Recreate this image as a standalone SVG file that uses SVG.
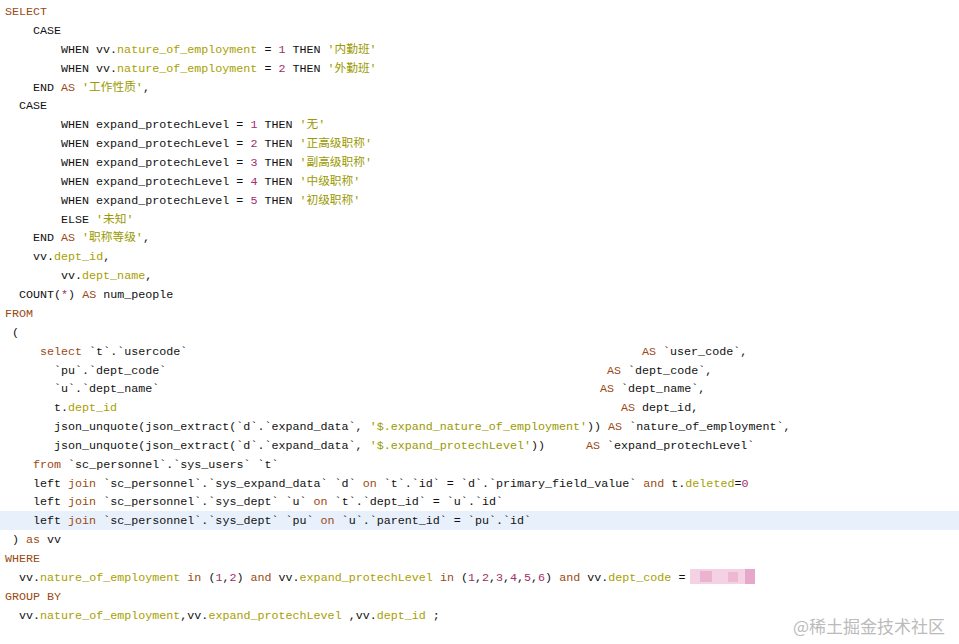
<svg xmlns="http://www.w3.org/2000/svg" width="959" height="644" viewBox="0 0 959 644">
<style>
text{font-family:"Liberation Mono","Noto Sans CJK SC",monospace;font-size:11.7px;fill:#111;white-space:pre}
.k{fill:#9a4a12}.s{fill:#9a9a00}.n{fill:#a0306a}.f{fill:#a8a000}
.wm{font-family:"Noto Sans CJK SC","Liberation Sans",sans-serif;font-size:17px;fill:#bbb}
</style>
<rect width="959" height="644" fill="#fff"/>
<rect x="0" y="511" width="959" height="19" fill="#e8f0fb"/>
<g id="code" xml:space="preserve">
<text x="5" y="15" class="k">SELECT</text>
<text x="33" y="34">CASE</text>
<text x="61" y="53">WHEN vv.<tspan class="f">nature_of_employment</tspan> = <tspan class="n">1</tspan> THEN <tspan class="s">'内勤班'</tspan></text>
<text x="61" y="72">WHEN vv.<tspan class="f">nature_of_employment</tspan> = <tspan class="n">2</tspan> THEN <tspan class="s">'外勤班'</tspan></text>
<text x="33" y="91">END <tspan class="k">AS</tspan> <tspan class="s">'工作性质'</tspan>,</text>
<text x="19" y="109">CASE</text>
<text x="61" y="128">WHEN expand_protechLevel = <tspan class="n">1</tspan> THEN <tspan class="s">'无'</tspan></text>
<text x="61" y="147">WHEN expand_protechLevel = <tspan class="n">2</tspan> THEN <tspan class="s">'正高级职称'</tspan></text>
<text x="61" y="166">WHEN expand_protechLevel = <tspan class="n">3</tspan> THEN <tspan class="s">'副高级职称'</tspan></text>
<text x="61" y="185">WHEN expand_protechLevel = <tspan class="n">4</tspan> THEN <tspan class="s">'中级职称'</tspan></text>
<text x="61" y="204">WHEN expand_protechLevel = <tspan class="n">5</tspan> THEN <tspan class="s">'初级职称'</tspan></text>
<text x="61" y="223">ELSE <tspan class="s">'未知'</tspan></text>
<text x="33" y="241">END <tspan class="k">AS</tspan> <tspan class="s">'职称等级'</tspan>,</text>
<text x="33" y="260">vv.<tspan class="f">dept_id</tspan>,</text>
<text x="61" y="279">vv.<tspan class="f">dept_name</tspan>,</text>
<text x="19" y="298">COUNT(<tspan class="n">*</tspan>) <tspan class="k">AS</tspan> num_people</text>
<text x="5" y="317" class="k">FROM</text>
<text x="12" y="336">(</text>
<text x="40" y="355"><tspan class="k">select</tspan> `t`.`usercode`<tspan x="642" class="k">AS</tspan> `user_code`,</text>
<text x="54" y="374">`pu`.`dept_code`<tspan x="607" class="k">AS</tspan> `dept_code`,</text>
<text x="54" y="392">`u`.`dept_name`<tspan x="600" class="k">AS</tspan> `dept_name`,</text>
<text x="54" y="411">t.<tspan class="f">dept_id</tspan><tspan x="621" class="k">AS</tspan> dept_id,</text>
<text x="54" y="430">json_unquote(json_extract(`d`.`expand_data`, <tspan class="s">'$.expand_nature_of_employment'</tspan>)) <tspan class="k">AS</tspan> `nature_of_employment`,</text>
<text x="54" y="449">json_unquote(json_extract(`d`.`expand_data`, <tspan class="s">'$.expand_protechLevel'</tspan>))<tspan x="586" class="k">AS</tspan> `expand_protechLevel`</text>
<text x="33" y="468"><tspan class="k">from</tspan> `sc_personnel`.`sys_users` `t`</text>
<text x="33" y="487">left <tspan class="k">join</tspan> `sc_personnel`.`sys_expand_data` `d` <tspan class="k">on</tspan> `t`.`id` = `d`.`primary_field_value` <tspan class="k">and</tspan> t.<tspan class="f">deleted</tspan>=<tspan class="n">0</tspan></text>
<text x="33" y="505">left <tspan class="k">join</tspan> `sc_personnel`.`sys_dept` `u` <tspan class="k">on</tspan> `t`.`dept_id` = `u`.`id`</text>
<text x="33" y="524">left <tspan class="k">join</tspan> `sc_personnel`.`sys_dept` `pu` <tspan class="k">on</tspan> `u`.`parent_id` = `pu`.`id`</text>
<text x="12" y="543">) <tspan class="k">as</tspan> vv</text>
<text x="5" y="562" class="k">WHERE</text>
<text x="19" y="581">vv.<tspan class="f">nature_of_employment</tspan> <tspan class="k">in</tspan> (<tspan class="n">1</tspan>,<tspan class="n">2</tspan>) <tspan class="k">and</tspan> vv.<tspan class="f">expand_protechLevel</tspan> <tspan class="k">in</tspan> (<tspan class="n">1</tspan>,<tspan class="n">2</tspan>,<tspan class="n">3</tspan>,<tspan class="n">4</tspan>,<tspan class="n">5</tspan>,<tspan class="n">6</tspan>) <tspan class="k">and</tspan> vv.<tspan class="f">dept_code</tspan> =</text>
<text x="5" y="600" class="k">GROUP BY</text>
<text x="19" y="619">vv.<tspan class="f">nature_of_employment</tspan>,vv.<tspan class="f">expand_protechLevel</tspan> ,vv.<tspan class="f">dept_id</tspan> ;</text>
</g>
<g id="blur">
<rect x="690" y="569" width="65" height="15" fill="#f4d2e4"/>
<rect x="700" y="571" width="12" height="11" fill="#eab4d0"/>
<rect x="728" y="572" width="10" height="10" fill="#eeb8d4"/>
<rect x="745" y="569" width="10" height="15" fill="#e6a8c8"/>
</g>
<text x="793" y="633" class="wm">@稀土掘金技术社区</text>
</svg>
